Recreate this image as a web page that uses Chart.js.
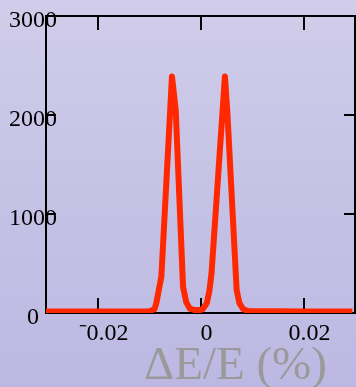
<!DOCTYPE html>
<html>
<head>
<meta charset="utf-8">
<script src="https://cdn.jsdelivr.net/npm/chart.js@4.4.1/dist/chart.umd.min.js"></script>
<style>
  html, body { margin: 0; padding: 0; }
  body { width: 356px; height: 387px; background: linear-gradient(to bottom, #d0cce9, #bcb8e2); }
  #wrap { width: 356px; height: 387px; position: relative; }
</style>
</head>
<body>
<div id="wrap"><canvas id="c" width="356" height="387"></canvas></div>
<script>
// Data
const energyShift = [-0.030, -0.020, -0.00988, -0.00891, -0.00858, -0.00760, -0.00554, -0.00481, -0.00339, -0.00277, -0.00209, -0.00111, 0.0000,
                     0.00045, 0.00123, 0.00172, 0.00214, 0.00474, 0.00519, 0.00702, 0.00756, 0.00825, 0.00922, 0.020, 0.0295];
const counts      = [15, 15, 18, 40, 100, 367, 2390, 2050, 265, 110, 45, 30, 30,
                     40, 100, 220, 400, 2390, 2050, 232, 100, 40, 20, 15, 15];
const xTickValues = [-0.02, 0, 0.02];
const xTickLabels = ['\u207B0.02', '0', '0.02'];
const yTickValues = [0, 1000, 2000, 3000];
const yTickLabels = ['0', '1000', '2000', '3000'];
const xTitle = '\u0394E/E (%)';

const points = energyShift.map((x, i) => ({ x: x, y: counts[i] }));

const framePlugin = {
  id: 'frame',
  beforeDatasetsDraw(chart) {
    const ctx = chart.ctx, a = chart.chartArea;
    const xs = chart.scales.x, ys = chart.scales.y;
    ctx.save();
    ctx.strokeStyle = '#000';
    ctx.lineWidth = 2;
    ctx.strokeRect(a.left, a.top, a.right - a.left, a.bottom - a.top);
    ctx.beginPath();
    xTickValues.forEach(v => {
      const px = Math.round(xs.getPixelForValue(v));
      ctx.moveTo(px, a.bottom); ctx.lineTo(px, a.bottom - 15);
      ctx.moveTo(px, a.top); ctx.lineTo(px, a.top + 14);
    });
    yTickValues.forEach(v => {
      const py = Math.round(ys.getPixelForValue(v));
      ctx.moveTo(a.left, py); ctx.lineTo(a.left + 10, py);
      ctx.moveTo(a.right, py); ctx.lineTo(a.right - 11, py);
    });
    ctx.stroke();
    ctx.restore();
  },
  afterDraw(chart) {
    const ctx = chart.ctx, a = chart.chartArea;
    ctx.save();
    ctx.fillStyle = '#9a9a9a';
    ctx.font = '47px "Liberation Serif"';
    ctx.textAlign = 'left';
    ctx.textBaseline = 'alphabetic';
    ctx.fillText(xTitle, a.left + 98, a.bottom + 66);
    ctx.restore();
  }
};

new Chart(document.getElementById('c'), {
  type: 'line',
  data: {
    datasets: [{
      data: points,
      borderColor: '#ff2800',
      borderWidth: 6,
      borderJoinStyle: 'round',
      pointRadius: 0,
      fill: false,
      tension: 0
    }]
  },
  options: {
    responsive: false,
    animation: false,
    layout: { padding: { top: 16, right: 1, left: 0, bottom: 0 } },
    plugins: { legend: { display: false }, tooltip: { enabled: false } },
    scales: {
      x: {
        type: 'linear',
        min: -0.03, max: 0.03,
        afterBuildTicks: s => { s.ticks = xTickValues.map(v => ({ value: v })); },
        afterFit: s => { s.height = 74; },
        grid: { display: false, drawTicks: false },
        border: { display: false },
        ticks: {
          color: '#000',
          font: { family: 'Liberation Serif', size: 24 },
          padding: 6,
          labelOffset: 6,
          maxRotation: 0,
          callback: (v) => { const i = xTickValues.findIndex(t => Math.abs(t - v) < 1e-9); return i >= 0 ? xTickLabels[i] : ''; }
        }
      },
      y: {
        type: 'linear',
        min: 0, max: 3000,
        afterBuildTicks: s => { s.ticks = yTickValues.map(v => ({ value: v })); },
        afterFit: s => { s.width = 46; },
        grid: { display: false, drawTicks: false },
        border: { display: false },
        ticks: {
          color: '#000',
          font: { family: 'Liberation Serif', size: 24 },
          mirror: true,
          crossAlign: 'center',
          padding: -37,
          labelOffset: 5,
          callback: (v) => { const i = yTickValues.indexOf(v); return i >= 0 ? yTickLabels[i] : ''; }
        }
      }
    }
  },
  plugins: [framePlugin]
});
</script>
</body>
</html>
